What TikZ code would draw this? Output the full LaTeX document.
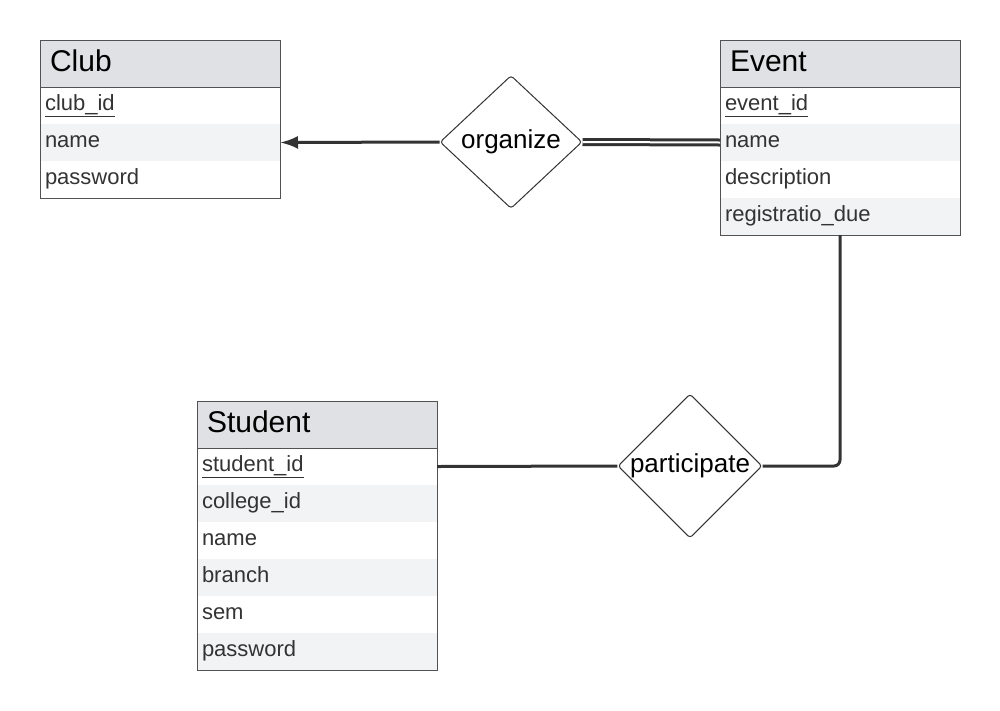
\documentclass[tikz,border=0pt]{standalone}
\usepackage{fontspec}
\setmainfont{Liberation Sans}
\usetikzlibrary{positioning,shapes.geometric,arrows.meta}
\definecolor{hdrgray}{HTML}{DFE1E5}
\definecolor{rowgray}{HTML}{F2F3F5}
\definecolor{ink}{HTML}{333333}
\tikzset{
  tblhead/.style = {fill=hdrgray, anchor=north west, outer sep=0pt,
    inner xsep=10pt, text width=220pt, minimum height=47pt, align=left,
    text height=22pt, text depth=6pt, font=\fontsize{30}{34}\selectfont},
  tblrow/.style = {outer sep=0pt, inner xsep=5pt, text width=230pt,
    minimum height=37pt, align=left, text=ink, text height=16pt,
    text depth=6pt, font=\fontsize{22}{26}\selectfont},
  tblline/.style = {draw=ink!85, line width=1pt},
  relship/.style = {diamond, draw=ink, line width=1pt, inner sep=0pt,
    rounded corners=3pt, minimum width=142pt, minimum height=133pt,
    fill=white, font=\fontsize{26}{30}\selectfont},
  link/.style = {draw=ink, line width=3pt}
}
\begin{document}
\begin{tikzpicture}[x=1pt, y=-1pt]
  \useasboundingbox (0, 0) rectangle (1000, 710);
  % Club
  \node[tblhead] (club-h) at (40, 40) {Club};
  \node[tblrow, below=0pt of club-h] (club-1) {\underline{club\_id}};
  \node[tblrow, fill=rowgray, below=0pt of club-1] (club-2) {name};
  \node[tblrow, below=0pt of club-2] (club-3) {password};
  \draw[tblline] (club-h.north west) rectangle (club-3.south east);
  \draw[tblline] (club-h.south west) -- (club-h.south east);
  % Event
  \node[tblhead] (event-h) at (720, 40) {Event};
  \node[tblrow, below=0pt of event-h] (event-1) {\underline{event\_id}};
  \node[tblrow, fill=rowgray, below=0pt of event-1] (event-2) {name};
  \node[tblrow, below=0pt of event-2] (event-3) {description};
  \node[tblrow, fill=rowgray, below=0pt of event-3] (event-4)
  {registratio\_due};
  \draw[tblline] (event-h.north west) rectangle (event-4.south east);
  \draw[tblline] (event-h.south west) -- (event-h.south east);
  % Student
  \node[tblhead] (student-h) at (197, 401) {Student};
  \node[tblrow, below=0pt of student-h] (student-1)
  {\underline{student\_id}};
  \node[tblrow, fill=rowgray, below=0pt of student-1] (student-2)
  {college\_id};
  \node[tblrow, below=0pt of student-2] (student-3) {name};
  \node[tblrow, fill=rowgray, below=0pt of student-3] (student-4) {branch};
  \node[tblrow, below=0pt of student-4] (student-5) {sem};
  \node[tblrow, fill=rowgray, below=0pt of student-5] (student-6)
  {password};
  \draw[tblline] (student-h.north west) rectangle (student-6.south east);
  \draw[tblline] (student-h.south west) -- (student-h.south east);
  % relationships
  \node[relship] (organize) at (511, 142) {organize};
  \node[relship] (participate) at (690, 466) {participate};
  \draw[link, -{Latex[length=18pt, width=13pt]}] (organize.west) --
  (club-2.east);
  \draw[draw=ink, line width=3pt, double, double distance=2pt]
  (organize.east) -- (event-2.west);
  \draw[link] (student-1.east) -- (participate.west);
  \draw[link, rounded corners=6pt] (participate.east) -| (event-4.south);
\end{tikzpicture}
\end{document}
